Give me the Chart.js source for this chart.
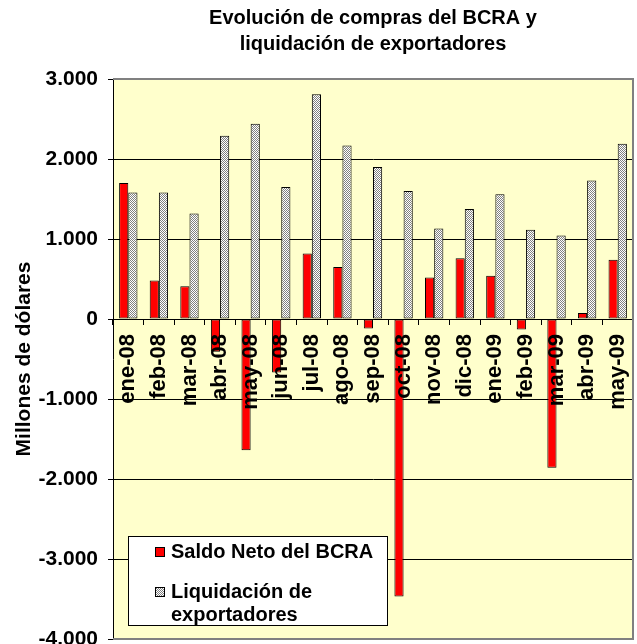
<!DOCTYPE html>
<html>
<head>
<meta charset="utf-8">
<script src="https://cdn.jsdelivr.net/npm/chart.js@4/dist/chart.umd.min.js"></script>
<style>
  html, body { margin: 0; padding: 0; background: #fff; }
</style>
</head>
<body>
<canvas id="grafico" width="637" height="644"></canvas>
<script>
// Datos (millones de dólares)
const meses = ['ene-08', 'feb-08', 'mar-08', 'abr-08', 'may-08', 'jun-08', 'jul-08', 'ago-08', 'sep-08',
               'oct-08', 'nov-08', 'dic-08', 'ene-09', 'feb-09', 'mar-09', 'abr-09', 'may-09'];
const saldoNeto = [1700, 480, 410, -410, -1640, -670, 820, 650, -120, -3470, 520, 760, 540, -130, -1860, 75, 740];
const liquidacion = [1580, 1580, 1320, 2290, 2440, 1650, 2810, 2170, 1900, 1600, 1130, 1375, 1560, 1115, 1045, 1730, 2190];
const nombresSeries = ['Saldo Neto del BCRA', 'Liquidación de exportadores'];
const ejeY = { min: -4000, max: 3000, paso: 1000 };

const FUENTE = "'Liberation Sans', Arial, sans-serif";
Chart.defaults.font.family = FUENTE;
Chart.defaults.color = '#000';

// 3.000 / -1.000
function formatoMiles(v) {
    const s = Math.abs(v).toString().replace(/\B(?=(\d{3})+(?!\d))/g, '.');
    return (v < 0 ? '-' : '') + s;
}

// Trama gris tipo ajedrez (1px) como en Excel
function tramaGris(ctx) {
    const c = document.createElement('canvas');
    c.width = 2; c.height = 2;
    const g = c.getContext('2d');
    g.fillStyle = '#ffffff';
    g.fillRect(0, 0, 2, 2);
    g.fillStyle = '#808080';
    g.fillRect(0, 0, 1, 1);
    g.fillRect(1, 1, 1, 1);
    return ctx.createPattern(c, 'repeat');
}

const ctx = document.getElementById('grafico').getContext('2d');
const gris = tramaGris(ctx);

// Fondo amarillo del área de trazado y borde gris
const fondoArea = {
    id: 'fondoArea',
    beforeDraw(chart) {
        const a = chart.chartArea;
        const c = chart.ctx;
        c.save();
        c.fillStyle = '#FFFFCC';
        c.fillRect(a.left, a.top, a.right - a.left, a.bottom - a.top);
        c.restore();
    },
    afterDraw(chart) {
        const a = chart.chartArea;
        const c = chart.ctx;
        c.save();
        c.strokeStyle = '#808080';
        c.lineWidth = 2;
        c.beginPath();
        c.moveTo(a.left, a.top);
        c.lineTo(a.right, a.top);
        c.lineTo(a.right, a.bottom);
        c.lineTo(a.left, a.bottom);
        c.stroke();
        c.restore();
    }
};

// Leyenda dentro del área, con el segundo texto en dos líneas
const leyenda = {
    id: 'leyenda',
    afterDraw(chart) {
        const a = chart.chartArea;
        const c = chart.ctx;
        const x = a.left + 15, y = a.top + 457, w = 259, h = 89;
        c.save();
        c.fillStyle = '#fff';
        c.fillRect(x, y, w, h);
        c.strokeStyle = '#000';
        c.lineWidth = 1;
        c.strokeRect(x + 0.5, y + 0.5, w, h);

        const ds = chart.data.datasets;
        const items = [
            { color: ds[0].backgroundColor, lines: [ds[0].label], cy: y + 16 },
            { color: ds[1].backgroundColor, lines: ['Liquidación de', 'exportadores'], cy: y + 56 }
        ];
        c.font = 'bold 20px ' + FUENTE;
        c.textBaseline = 'middle';
        c.fillStyle = '#000';
        items.forEach(it => {
            c.fillStyle = it.color;
            c.fillRect(x + 27, it.cy - 5, 10, 10);
            c.strokeStyle = '#000';
            c.strokeRect(x + 27.5, it.cy - 4.5, 9, 9);
            c.fillStyle = '#000';
            it.lines.forEach((t, i) => c.fillText(t, x + 43, it.cy + i * 23));
        });
        c.restore();
    }
};

new Chart(ctx, {
    type: 'bar',
    data: {
        labels: meses,
        datasets: [{
            label: nombresSeries[0],
            data: saldoNeto,
            backgroundColor: '#FF0000',
            borderColor: '#000',
            borderWidth: 1,
            borderSkipped: false
        }, {
            label: nombresSeries[1],
            data: liquidacion,
            backgroundColor: gris,
            borderColor: '#000',
            borderWidth: 1,
            borderSkipped: false
        }]
    },
    options: {
        responsive: false,
        animation: false,
        categoryPercentage: 0.6,
        barPercentage: 1.0,
        layout: { padding: { left: 0, right: 4, top: 0, bottom: 5 } },
        plugins: {
            legend: { display: false },
            tooltip: { enabled: false },
            title: {
                display: true,
                fullSize: false,
                text: ['Evolución de compras del BCRA y', 'liquidación de exportadores'],
                color: '#000',
                font: { size: 20, weight: 'bold', lineHeight: '26px' },
                padding: { top: 5, bottom: 22 }
            }
        },
        scales: {
            x: {
                position: { y: 0 },
                grid: { drawOnChartArea: false, drawTicks: true, tickLength: 5, color: '#000', offset: true },
                border: { color: '#000', z: 1 },
                ticks: {
                    autoSkip: false, minRotation: 90, maxRotation: 90, padding: 10, z: 1,
                    color: '#000', font: { size: 22, weight: 'bold' }
                },
                afterFit(s) { s.paddingLeft = 0; s.paddingRight = 0; }
            },
            y: {
                min: ejeY.min,
                max: ejeY.max,
                ticks: {
                    stepSize: ejeY.paso, padding: 10, color: '#000',
                    font: { size: 21, weight: 'bold' },
                    callback: v => formatoMiles(v)
                },
                grid: { color: '#000', tickLength: 5 },
                border: { color: '#000' },
                title: {
                    display: true, text: 'Millones de dólares', color: '#000',
                    font: { size: 21, weight: 'bold' },
                    padding: { top: 12, bottom: 0 }
                },
                afterFit(s) { s.width = 113; s.paddingTop = 0; s.paddingBottom = 0; }
            }
        }
    },
    plugins: [fondoArea, leyenda]
});
</script>
</body>
</html>
